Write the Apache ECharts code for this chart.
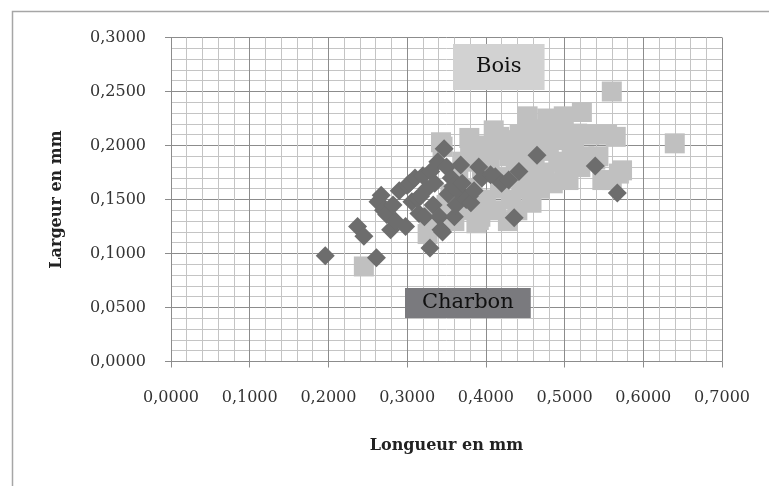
<!DOCTYPE html>
<html>
<head>
<meta charset="utf-8">
<script src="https://cdn.jsdelivr.net/npm/echarts@6/dist/echarts.min.js"></script>
<style>
html,body{margin:0;padding:0;background:#fff;}
#chart{width:769px;height:486px;}
</style>
</head>
<body>
<div id="chart"></div>
<script>
// ---- data ----
const seriesNames = ['Bois', 'Charbon'];
const xTickLabels = ['0,0000','0,1000','0,2000','0,3000','0,4000','0,5000','0,6000','0,7000'];
const yTickLabels = ['0,0000','0,0500','0,1000','0,1500','0,2000','0,2500','0,3000'];
const xAxisTitle = 'Longueur en mm';
const yAxisTitle = 'Largeur en mm';

const boisX = [0.245,0.326,0.328,0.335,0.345,0.343,0.350,0.355,0.360,0.365,0.370,0.372,0.379,0.380,0.383,0.388,0.391,0.393,0.395,0.398,
  0.400,0.405,0.410,0.412,0.413,0.417,0.418,0.420,0.425,0.428,0.430,0.432,0.435,0.438,0.440,0.443,0.445,0.448,0.450,0.453,
  0.455,0.458,0.460,0.462,0.465,0.468,0.470,0.475,0.478,0.480,0.482,0.485,0.489,0.492,0.495,0.499,0.500,0.505,0.509,0.512,
  0.516,0.520,0.522,0.525,0.531,0.539,0.543,0.548,0.554,0.560,0.560,0.565,0.569,0.573,0.640];
const boisY = [0.088,0.118,0.125,0.135,0.199,0.203,0.145,0.155,0.130,0.170,0.185,0.140,0.207,0.192,0.160,0.128,0.131,0.134,0.175,0.200,
  0.150,0.185,0.214,0.196,0.140,0.208,0.160,0.170,0.205,0.130,0.190,0.150,0.200,0.178,0.140,0.210,0.160,0.185,0.198,0.227,
  0.170,0.147,0.205,0.180,0.215,0.160,0.195,0.175,0.225,0.196,0.208,0.165,0.205,0.185,0.215,0.227,0.175,0.168,0.187,0.200,
  0.211,0.180,0.231,0.190,0.210,0.187,0.190,0.168,0.210,0.250,0.168,0.208,0.174,0.177,0.202];

const charbonX = [0.196,0.237,0.245,0.261,0.263,0.267,0.270,0.274,0.279,0.282,0.285,0.290,0.298,0.300,0.303,0.306,0.310,0.313,0.315,0.317,
  0.320,0.322,0.325,0.329,0.330,0.333,0.335,0.339,0.341,0.343,0.345,0.347,0.350,0.352,0.356,0.358,0.360,0.362,0.365,0.368,
  0.370,0.375,0.379,0.381,0.385,0.391,0.395,0.406,0.412,0.420,0.429,0.436,0.442,0.465,0.539,0.567];
const charbonY = [0.098,0.125,0.116,0.096,0.148,0.154,0.140,0.136,0.122,0.145,0.130,0.158,0.125,0.163,0.165,0.148,0.170,0.151,0.137,0.153,
  0.172,0.134,0.160,0.105,0.176,0.145,0.165,0.185,0.134,0.122,0.120,0.197,0.180,0.155,0.170,0.162,0.134,0.145,0.158,0.182,
  0.165,0.150,0.153,0.147,0.158,0.180,0.170,0.173,0.171,0.165,0.168,0.133,0.176,0.191,0.181,0.156];

const zip = (xs, ys) => xs.map((x, i) => [x, ys[i]]);
const FONT = '"DejaVu Serif", serif';

const chart = echarts.init(document.getElementById('chart'), null, {renderer: 'canvas'});

const axisCommon = {
  type: 'value',
  axisLine: {show: true, onZero: false, lineStyle: {color: '#8c8c8c', width: 1}},
  axisTick: {show: true, inside: false, length: 6, lineStyle: {color: '#8c8c8c'}},
  splitLine: {show: true, lineStyle: {color: '#8c8c8c', width: 1}},
  minorTick: {show: false, splitNumber: 5},
  minorSplitLine: {show: true, lineStyle: {color: '#c4c4c4', width: 1}},
  nameLocation: 'middle',
  nameTextStyle: {fontFamily: FONT, fontSize: 16, fontWeight: 'bold', color: '#222'}
};

chart.setOption({
  animation: false,
  backgroundColor: '#ffffff',
  grid: {left: 171, top: 37.5, right: 47, bottom: 124.5, containLabel: false},
  xAxis: Object.assign({}, axisCommon, {
    min: 0, max: 0.7, interval: 0.1,
    name: xAxisTitle, nameGap: 76,
    axisLabel: {margin: 28, fontFamily: FONT, fontSize: 16, color: '#333',
      formatter: v => xTickLabels[Math.round(v / 0.1)]}
  }),
  yAxis: Object.assign({}, axisCommon, {
    min: 0, max: 0.3, interval: 0.05,
    name: yAxisTitle, nameGap: 106, nameRotate: 90,
    axisLabel: {margin: 25, fontFamily: FONT, fontSize: 16, color: '#333',
      formatter: v => yTickLabels[Math.round(v / 0.05)]}
  }),
  legend: [
    {
      data: [seriesNames[0]], left: 448, top: 44, padding: 0,
      icon: 'none', itemWidth: 0, itemHeight: 0, selectedMode: false,
      textStyle: {fontFamily: FONT, fontSize: 21, color: '#111', backgroundColor: '#d2d2d2',
        padding: [12, 23, 12, 23], lineHeight: 22}
    },
    {
      data: [seriesNames[1]], left: 400, top: 288, padding: 0,
      icon: 'none', itemWidth: 0, itemHeight: 0, selectedMode: false,
      textStyle: {fontFamily: FONT, fontSize: 21, color: '#111', backgroundColor: '#7a7a7e',
        padding: [4, 17, 4, 17], lineHeight: 22}
    }
  ],
  graphic: [{
    type: 'rect', left: 10, top: 9, silent: true, z: -10,
    shape: {x: 0, y: 0, width: 800, height: 520},
    style: {fill: 'none', stroke: '#a6a6a6', lineWidth: 1.5}
  }],
  series: [
    {
      name: seriesNames[0], type: 'scatter', symbol: 'rect', symbolSize: 20,
      itemStyle: {color: '#c0c0c0', opacity: 1},
      data: zip(boisX, boisY), z: 2
    },
    {
      name: seriesNames[1], type: 'scatter', symbol: 'diamond', symbolSize: 19,
      itemStyle: {color: '#6d6d6d', opacity: 1},
      data: zip(charbonX, charbonY), z: 3
    }
  ]
});
</script>
</body>
</html>
